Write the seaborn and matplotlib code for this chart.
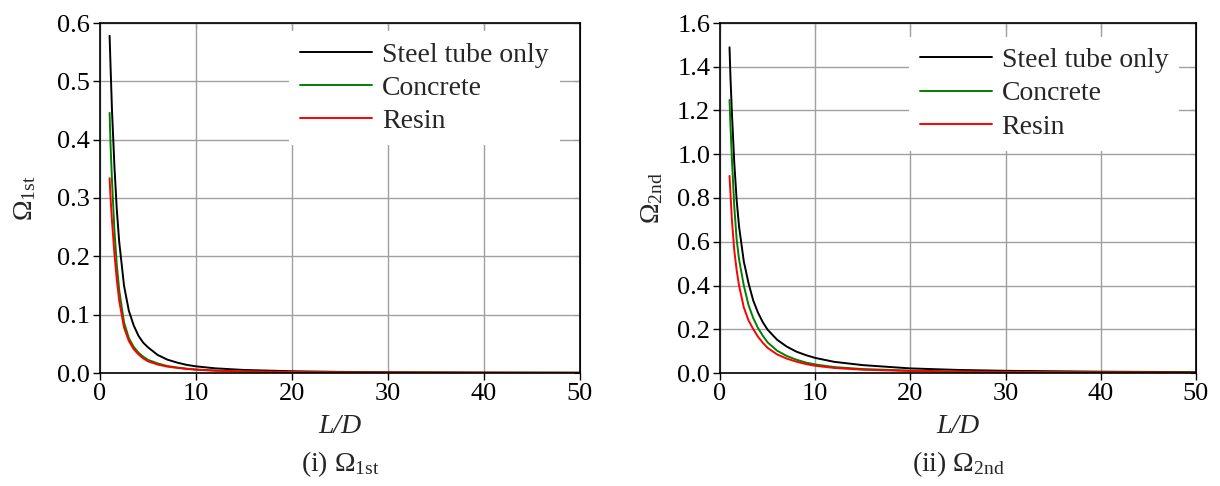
"""
Omega_1st and Omega_2nd versus L/D for three filling cases (steel tube only, concrete, resin).
"""
import matplotlib
matplotlib.use('Agg')
import pandas as pd
import matplotlib.pyplot as plt
import seaborn as sns

# L/D sample points
ld = [1, 1.1, 1.25, 1.5, 1.75, 2, 2.5, 3, 3.5, 4, 4.5, 5, 6, 7, 8, 9, 10,
      12, 15, 20, 25, 30, 40, 50]

# (i) Omega_1st
first_steel = [0.578, 0.525, 0.45, 0.355, 0.28, 0.225, 0.15, 0.107, 0.082, 0.064, 0.052,
               0.044, 0.031, 0.023, 0.018, 0.014, 0.0114,
               0.008, 0.0052, 0.003, 0.0019, 0.0013, 0.0007, 0.0005]
first_concrete = [0.446, 0.39, 0.33, 0.245, 0.185, 0.142, 0.087, 0.06, 0.045, 0.035, 0.028,
                  0.0225, 0.0165, 0.012, 0.0095, 0.0075, 0.006,
                  0.0042, 0.0028, 0.0016, 0.001, 0.0007, 0.0004, 0.0003]
first_resin = [0.334, 0.3, 0.26, 0.205, 0.16, 0.124, 0.078, 0.055, 0.041, 0.032, 0.025,
               0.02, 0.0145, 0.011, 0.0088, 0.007, 0.0056,
               0.004, 0.0026, 0.0015, 0.001, 0.0007, 0.0004, 0.0002]

# (ii) Omega_2nd
second_steel = [1.489, 1.35, 1.19, 0.96, 0.79, 0.67, 0.51, 0.41, 0.33, 0.275, 0.232,
                0.198, 0.152, 0.121, 0.098, 0.082, 0.069,
                0.051, 0.036, 0.021, 0.014, 0.01, 0.006, 0.004]
second_concrete = [1.248, 1.13, 0.98, 0.76, 0.61, 0.52, 0.4, 0.31, 0.25, 0.205, 0.17,
                   0.14, 0.102, 0.078, 0.061, 0.048, 0.039,
                   0.027, 0.018, 0.011, 0.007, 0.005, 0.003, 0.002]
second_resin = [0.901, 0.82, 0.7, 0.56, 0.47, 0.4, 0.3, 0.24, 0.2, 0.165, 0.138,
                0.115, 0.085, 0.066, 0.052, 0.041, 0.033,
                0.023, 0.015, 0.009, 0.006, 0.004, 0.0025, 0.0015]

cases = ['Steel tube only', 'Concrete', 'Resin']
colors = {'Steel tube only': 'black', 'Concrete': '#008000', 'Resin': '#ff0000'}


def long_frame(series):
    rows = []
    for case, vals in zip(cases, series):
        for x, y in zip(ld, vals):
            rows.append({'L/D': x, 'Omega': y, 'case': case})
    return pd.DataFrame(rows)


df1 = long_frame([first_steel, first_concrete, first_resin])
df2 = long_frame([second_steel, second_concrete, second_resin])

sns.set_style('white')
plt.rcParams['font.family'] = ['Liberation Serif', 'DejaVu Serif']
plt.rcParams['mathtext.fontset'] = 'custom'
plt.rcParams['mathtext.rm'] = 'Liberation Serif'
plt.rcParams['mathtext.it'] = 'Liberation Serif:italic'

FS = 20
fig = plt.figure(figsize=(12.2, 4.86), dpi=100)
ax1 = fig.add_axes([100 / 1220, 113 / 486, 480 / 1220, 350 / 486])
ax2 = fig.add_axes([720 / 1220, 113 / 486, 476 / 1220, 350 / 486])

panels = [
    (ax1, df1, 0.6, 0.1, r'$\Omega_{\mathrm{1st}}$', r'(i) $\Omega_{\mathrm{1st}}$', (0.958, 0.977), 14),
    (ax2, df2, 1.6, 0.2, r'$\Omega_{\mathrm{2nd}}$', r'(ii) $\Omega_{\mathrm{2nd}}$', (0.965, 0.961), 9),
]

for ax, df, ymax, ystep, ylab, title, anchor, ypad in panels:
    sns.lineplot(data=df, x='L/D', y='Omega', hue='case', hue_order=cases, palette=colors,
                 estimator=None, sort=False, linewidth=1.4, ax=ax)
    ax.set_xlim(0, 50)
    ax.set_ylim(0, ymax)
    ax.set_xticks(range(0, 51, 10))
    ax.set_yticks([i * ystep for i in range(int(round(ymax / ystep)) + 1)])
    ax.yaxis.set_major_formatter(matplotlib.ticker.FormatStrFormatter('%.1f'))
    ax.grid(True, color='#a0a0a0', linewidth=1.0)
    ax.set_axisbelow(True)
    for s in ax.spines.values():
        s.set_color('black')
        s.set_linewidth(1.2)
    ax.tick_params(direction='out', length=5, width=1, colors='black', labelsize=FS - 1,
                   left=True, bottom=True, pad=2)
    # inward ticks on top and right
    top = ax.secondary_xaxis('top')
    top.set_xticks(range(0, 51, 10))
    top.tick_params(direction='in', length=4, labeltop=False)
    right = ax.secondary_yaxis('right')
    right.set_yticks(ax.get_yticks())
    right.tick_params(direction='in', length=4, labelright=False)

    ax.set_xlabel('L/D', fontsize=FS, style='italic', labelpad=7)
    ax.set_ylabel(ylab, fontsize=FS, labelpad=ypad)
    ax.text(0.5, -0.26, title, transform=ax.transAxes, ha='center', va='center', fontsize=FS)

    handles, labels = ax.get_legend_handles_labels()
    ax.legend(handles, labels, loc='upper right', bbox_to_anchor=anchor, borderaxespad=0,
              fontsize=FS, frameon=True, facecolor='white', edgecolor='none', framealpha=1,
              fancybox=False, handlelength=2.6, handletextpad=0.35, labelspacing=0.28)

fig.savefig('out.png', dpi=100)
